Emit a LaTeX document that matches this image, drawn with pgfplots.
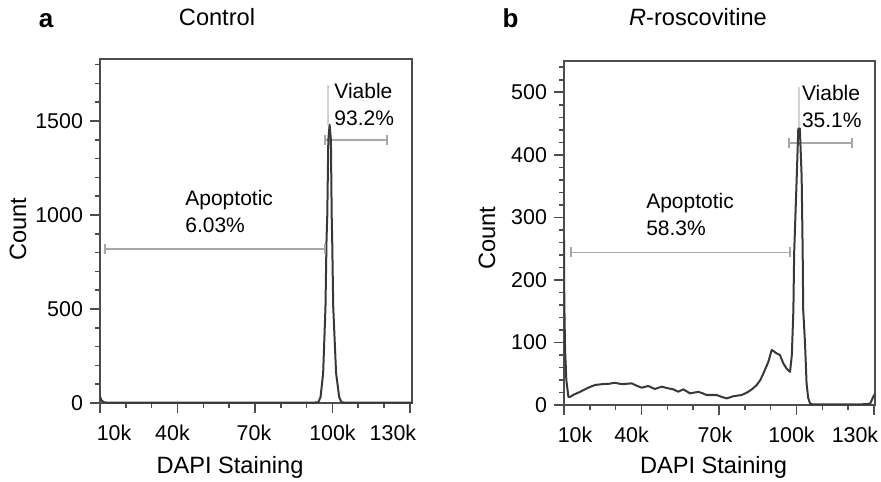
\documentclass[border=0pt]{standalone}
\usepackage{pgfplots}
\pgfplotsset{compat=1.18}
\usepackage{fontspec}
\setmainfont{Liberation Sans}
\definecolor{frame}{HTML}{4D4D4D}
\definecolor{curve}{HTML}{383838}
\definecolor{gate}{HTML}{A8A8A8}
\definecolor{spike}{HTML}{D2D2D2}
% shift a tick label sideways by half of #1
\newcommand{\sh}[2]{\makebox[0pt]{\hspace{#1}#2}}
\pgfplotsset{
  flow/.style={
    scale only axis,
    axis line style={frame, line width=1pt},
    tick align=outside, xtick pos=bottom, ytick pos=left,
    major tick length=5pt, minor tick length=2.5pt,
    every tick/.style={frame, line width=0.8pt},
    tick label style={font=\fontsize{10.7}{12}\selectfont},
    xticklabel style={yshift=-2.5pt},
    ymin=0, xmin=10,
    xtick={10,40,70,100,130},
    minor xtick={20,30,50,60,80,90,110,120},
    /pgf/number format/assume math mode=true,
    /pgf/number format/1000 sep={},
    scaled y ticks=false,
  },
  curveline/.style={curve, line width=1pt, line join=round},
  gateline/.style={gate, line width=0.8pt, mark=|, mark size=2.5pt,
    mark options={gate, line width=0.8pt}},
}
\tikzset{
  note/.style={anchor=west, align=left, inner sep=0pt,
    font=\fontsize{10.5}{13.5}\selectfont},
}
\begin{document}
\begin{tikzpicture}
\path[use as bounding box] (0,0) rectangle (440.5pt,-240.5pt);

% panel a
\begin{axis}[flow, anchor=south west, at={(50pt,-201.5pt)},
  width=156pt, height=172pt,
  xmax=130.8, ymax=1830,
  ytick={0,500,1000,1500},
  minor ytick={100,200,300,400,600,700,800,900,1100,1200,1300,1400,1600,1700,1800},
  xticklabels={\sh{14pt}{10k},\sh{-5pt}{40k},\sh{-1pt}{70k},100k,\sh{-17pt}{130k}},
]
\addplot[spike, line width=1pt] coordinates {(98.3,1480)(98.3,1691)};
\addplot[gateline] coordinates {(11.9,819)(97.1,819)};
\addplot[gateline] coordinates {(97.1,1399)(121.1,1399)};
\addplot[curveline] coordinates {
  (10,35)(10.5,15)(11.5,4)(13,2)(30,2)(60,2)(90,2)(94.5,3)
  (95.4,32)(96.4,160)(97.3,512)(97.7,867)(98,1000)(98.4,1400)(98.9,1480)
  (99.4,1400)(99.7,1000)(99.9,867)(100.3,512)(101.4,160)(102.6,32)
  (103.5,4)(105,2)(130.8,2)
};
\node[note] at (axis cs:42.9,1021) {Apoptotic\\6.03\%};
\node[note] at (axis cs:100.6,1590) {Viable\\93.2\%};
\end{axis}

% panel b
\begin{axis}[flow, anchor=south west, at={(282pt,-202.5pt)},
  width=155.5pt, height=172pt,
  xmax=130.4, ymax=550,
  ytick={0,100,200,300,400,500},
  minor ytick={20,40,60,80,120,140,160,180,220,240,260,280,320,340,360,380,420,440,460,480,520,540},
  xticklabels={\sh{11pt}{10k},\sh{-10pt}{40k},\sh{-4pt}{70k},\sh{-5pt}{100k},\sh{-19pt}{130k}},
]
\addplot[spike, line width=1pt] coordinates {(100.8,442)(100.8,508)};
\addplot[gateline] coordinates {(12.6,244)(97.5,244)};
\addplot[gateline] coordinates {(97.2,419)(121.4,419)};
\addplot[curveline] coordinates {
  (10.02,265)(10.1,170)(10.4,90)(10.9,40)(11.7,13)(12.3,13)(14,17)(16.2,21)(19,27)
  (22,32)(25.2,33.5)(27.5,34)(29.7,35.6)(31.5,34)(33,33.5)(36.2,34.6)
  (38,31)(40.1,27.7)(42.6,30.4)(45.2,25.6)(47.8,29.3)(50,27)(52.3,25)
  (54.2,21.3)(56.2,25)(58.8,18.6)(60.5,20)(62,21)(63.5,19)(65.2,16)
  (69.1,16)(71,13)(73,10.6)(75.5,14)(78.8,16)(81.3,21)(83,26)(84.6,32)
  (86,40)(87.2,50.6)(89.1,69)(90.4,88)(91.2,86)(92.3,82.6)(93.6,80)
  (94.9,66.5)(96.2,58)(97.5,53)(98.2,80)(98.8,152)(99.1,243)(100.1,365)
  (100.7,442)(101.3,442)(102,365)(102.4,243)(102.6,152)(103.3,99)
  (103.9,35)(104.5,12)(105.2,3)(106,1)(115,1)(125,1)(128.5,2)(129.7,13)(130.4,18)
};
\node[note] at (axis cs:41.7,305) {Apoptotic\\58.3\%};
\node[note] at (axis cs:102,478) {Viable\\35.1\%};
\end{axis}

% titles and labels
\node[anchor=base, font=\fontsize{13}{15}\selectfont\bfseries] at (23pt,-14pt) {a};
\node[anchor=base, font=\fontsize{13}{15}\selectfont\bfseries] at (255.25pt,-14pt) {b};
\node[anchor=base, font=\fontsize{11.8}{14}\selectfont] at (108.5pt,-13pt) {Control};
\node[anchor=base, font=\fontsize{11.8}{14}\selectfont] at (349pt,-13pt) {\textit{R}-roscovitine};
\node[anchor=base, font=\fontsize{11.8}{14}\selectfont] at (115pt,-236.5pt) {DAPI Staining};
\node[anchor=base, font=\fontsize{11.8}{14}\selectfont] at (356.75pt,-236.5pt) {DAPI Staining};
\node[rotate=90, font=\fontsize{11.8}{14}\selectfont] at (9pt,-114.5pt) {Count};
\node[rotate=90, font=\fontsize{11.8}{14}\selectfont] at (243.5pt,-119pt) {Count};
\end{tikzpicture}
\end{document}
